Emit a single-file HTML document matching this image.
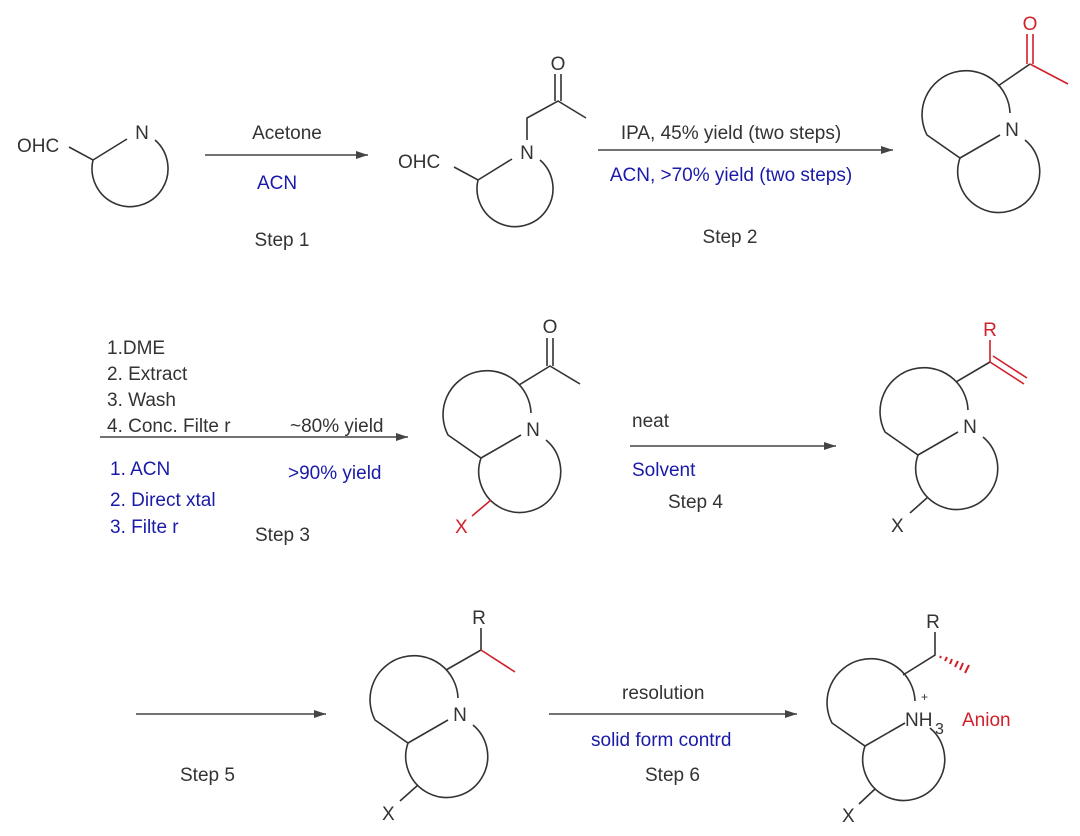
<!DOCTYPE html>
<html><head><meta charset="utf-8"><style>
body{margin:0;background:#fff}
svg{display:block}
text{font-family:"Liberation Sans",sans-serif;font-size:19px;fill:#333}
.b{fill:#1a1aa8}.r{fill:#d0202a}
</style></head><body>
<svg width="1080" height="836" viewBox="0 0 1080 836" xmlns="http://www.w3.org/2000/svg">
<defs>
<marker id="ah" markerWidth="12" markerHeight="8" refX="12" refY="4" orient="auto" markerUnits="userSpaceOnUse"><path d="M0,0 L12,4 L0,8 z" fill="#444"/></marker>
<g id="bi" fill="none" stroke="#333" stroke-width="1.6">
<path d="M-2,-17 A44 44 0 1 0 -85,5 L-52,28 L-12,5"/>
<path d="M-52,28 A41 41 0 1 0 13,10"/>
</g>
<g id="mono" fill="none" stroke="#333" stroke-width="1.6">
<path d="M-73,14 L-49,27 L-15,6"/>
<path d="M-49,27 A38 38 0 1 0 13,7"/>
</g>
</defs>
<g stroke="#444" stroke-width="1.6" fill="none">
<line x1="205" y1="155" x2="368" y2="155" marker-end="url(#ah)"/>
<line x1="598" y1="150" x2="893" y2="150" marker-end="url(#ah)"/>
<line x1="100" y1="437" x2="408" y2="437" marker-end="url(#ah)"/>
<line x1="630" y1="446" x2="836" y2="446" marker-end="url(#ah)"/>
<line x1="136" y1="714" x2="326" y2="714" marker-end="url(#ah)"/>
<line x1="549" y1="714" x2="797" y2="714" marker-end="url(#ah)"/>
</g>
<!-- struct 1 -->
<g transform="translate(142,133)"><use href="#mono"/><text x="0" y="6" text-anchor="middle">N</text></g>
<text x="17" y="152">OHC</text>
<!-- struct 2 -->
<g transform="translate(527,153)"><use href="#mono"/><text x="0" y="6" text-anchor="middle">N</text></g>
<text x="398" y="168">OHC</text>
<g fill="none" stroke="#333" stroke-width="1.6"><path d="M527,140 L527,118 L558,101 L586,118"/><path d="M555,101 L555,74 M561,101 L561,74"/></g>
<text x="558" y="70" text-anchor="middle">O</text>
<!-- struct 3 -->
<g transform="translate(1012,130)"><use href="#bi"/><text x="0" y="6" text-anchor="middle">N</text></g>
<g fill="none" stroke-width="1.6"><path d="M998,86 L1030,64" stroke="#333"/><path d="M1030,64 L1068,84 M1027,64 L1027,34 M1033,64 L1033,34" stroke="#d0202a"/></g>
<text x="1030" y="30" text-anchor="middle" class="r">O</text>
<!-- step3 product -->
<g transform="translate(533,430)"><use href="#bi"/><text x="0" y="6" text-anchor="middle">N</text></g>
<g fill="none" stroke-width="1.6"><path d="M519,385 L550,366 L580,384 M547,366 L547,338 M553,366 L553,338" stroke="#333"/><path d="M491,500 L472,516" stroke="#d0202a"/></g>
<text x="550" y="333" text-anchor="middle">O</text>
<text x="455" y="533" class="r">X</text>
<!-- struct 4 -->
<g transform="translate(970,427)"><use href="#bi"/><text x="0" y="6" text-anchor="middle">N</text></g>
<g fill="none" stroke-width="1.6"><path d="M956,382 L990,362" stroke="#333"/><path d="M990,362 L990,340 M990,362 L1024,384 M993,356 L1027,378" stroke="#d0202a"/><path d="M928,497 L910,513" stroke="#333"/></g>
<text x="990" y="336" text-anchor="middle" class="r">R</text>
<text x="891" y="532">X</text>
<!-- struct 5 -->
<g transform="translate(460,715)"><use href="#bi"/><text x="0" y="6" text-anchor="middle">N</text></g>
<g fill="none" stroke-width="1.6"><path d="M446,670 L481,650 L481,628 M418,785 L400,801" stroke="#333"/><path d="M481,650 L515,672" stroke="#d0202a"/></g>
<text x="479" y="624" text-anchor="middle">R</text>
<text x="382" y="820">X</text>
<!-- struct 6 -->
<g transform="translate(917,718)"><use href="#bi"/></g>
<text x="905" y="726">NH</text><text x="935" y="734" style="font-size:16px">3</text><text x="921" y="701" style="font-size:12px">+</text>
<text x="962" y="726" class="r">Anion</text>
<g fill="none" stroke-width="1.6"><path d="M903,675 L935,655 L935,632 M875,789 L859,804" stroke="#333"/>
<path d="M940,658 l1,-2 M945,661 l2,-4 M950,664 l2,-5 M955,667 l3,-6 M960,670 l3,-7 M965,673 l4,-8" stroke="#d0202a" stroke-width="2"/></g>
<text x="933" y="628" text-anchor="middle">R</text>
<text x="842" y="822">X</text>
<!-- labels -->
<text x="287" y="139" text-anchor="middle">Acetone</text>
<text x="277" y="189" text-anchor="middle" class="b">ACN</text>
<text x="282" y="246" text-anchor="middle">Step 1</text>
<text x="731" y="139" text-anchor="middle">IPA, 45% yield (two steps)</text>
<text x="731" y="181" text-anchor="middle" class="b">ACN, &gt;70% yield (two steps)</text>
<text x="730" y="243" text-anchor="middle">Step 2</text>
<text x="107" y="354">1.DME</text>
<text x="107" y="380">2. Extract</text>
<text x="107" y="406">3. Wash</text>
<text x="107" y="432">4. Conc. Filte r</text>
<text x="290" y="432">~80% yield</text>
<text x="110" y="475" class="b">1. ACN</text>
<text x="110" y="506" class="b">2. Direct xtal</text>
<text x="110" y="533" class="b">3. Filte r</text>
<text x="288" y="479" class="b">&gt;90% yield</text>
<text x="255" y="541">Step 3</text>
<text x="632" y="427">neat</text>
<text x="632" y="476" class="b">Solvent</text>
<text x="668" y="508">Step 4</text>
<text x="180" y="781">Step 5</text>
<text x="622" y="699">resolution</text>
<text x="591" y="746" class="b">solid form contrd</text>
<text x="645" y="781">Step 6</text>
</svg>
</body></html>
